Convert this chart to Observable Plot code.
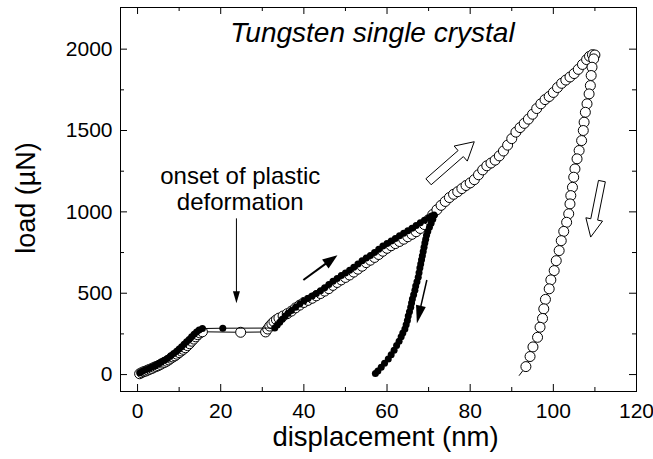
<!DOCTYPE html>
<html>
<head>
<meta charset="utf-8">
<script src="https://cdn.jsdelivr.net/npm/d3@7"></script>
<script src="https://cdn.jsdelivr.net/npm/@observablehq/plot@0.6"></script>
<style>
  html, body { margin: 0; padding: 0; background: #fff; }
  #chart svg { display: block; }
</style>
</head>
<body>
<div id="chart"></div>
<script>
// Nanoindentation load–displacement curves on a tungsten single crystal.
// Points are [displacement (nm), load (µN)].

// Open symbols: full loading to ~2000 µN
const openLoading = [
  [0.5,5],[1,12],[1.5,18],[2,22],[2.5,28],[3,33],[3.5,38],[4,45],[4.5,50],[5,55],
  [5.5,62],[6,70],[6.5,75],[7,82],[7.5,90],[8,100],[8.5,108],[9,115],[9.5,125],[10,135],
  [10.5,145],[11,155],[11.5,165],[12,178],[12.5,190],[13,205],[13.5,218],[14,232],[14.5,245],[15,256],
  [15.6,263],[24.8,260],[30.8,262],[31.3,280],[31.8,298],[32.3,312],[32.8,325],[33.4,337],[34,347],[35,360],
  [36,374],[37,390],[38,410],[39,427],[40,443],[41,456],[42,469],[43,484],[44,498],[45,513],
  [46,528],[47,548],[48,566],[49,582],[50,597],[51,612],[52,630],[53,648],[54,666],[55,688],
  [56,703],[57,720],[58,738],[59,758],[60,776],[61,792],[62,805],[63,818],[64,832],[65,847],
  [66,862],[67,878],[68,898],[69,922],[70,952],[71,984],[72,1013],[73,1040],[74,1064],[75,1088],
  [76,1108],[77,1124],[78,1143],[79,1162],[80,1178],[81,1198],[82,1228],[83,1258],[84,1283],[85,1300],
  [86,1318],[87,1344],[88,1374],[89,1410],[90,1450],[91,1490],[92,1518],[93,1544],[94,1570],[95,1600],
  [96,1635],[97,1664],[98,1690],[99,1709],[100,1734],[101,1764],[102,1790],[103,1810],[104,1829],[105,1850],
  [106,1876],[107,1906],[108,1936],[108.7,1956],[109.4,1966],[110,1964]
];

// Open symbols: unloading from the peak
const openUnloading = [
  [109.7,1940],[109.3,1889],[109.1,1838],[108.9,1776],[108.6,1725],[108.1,1664],[107.7,1612],[107.4,1551],
  [107.2,1500],[106.8,1438],[106.2,1377],[105.7,1326],[105.2,1264],[104.9,1213],[104.6,1151],[104.2,1100],
  [104.0,1049],[103.7,988],[103.2,936],[102.5,880],[101.9,823],[101.4,762],[100.7,700],[100.2,639],
  [99.4,582],[99.0,527],[98.1,462],[97.7,404],[97.4,345],[96.8,291],[96.2,229],[95.1,170],
  [94.4,111],[93.4,49]
];
// last recorded sample of the open unloading trace (line only, no symbol)
const openUnloadingEnd = [[91.8,-5]];

// Filled symbols: partial loading to ~1000 µN
const filledLoading = [
  [0.6,12],[1.2,20],[2,30],[2.8,38],[3.5,46],[4.3,55],[5,65],
  [5.7,75],[6.5,88],[7.2,99],[8,115],[8.7,129],[9.4,144],[10,157],
  [10.6,171],[11.2,186],[11.8,201],[12.4,216],[13,232],[13.6,248],[14.2,262],[14.8,274],
  [15.6,283],[20.5,285],[33,286],[33.6,304],[34.2,322],[34.8,340],[35.5,360],[36.2,377],[37,394],
  [38,414],[39,434],[40,452],[41,468],[42,483],[43,499],[44,515],[45,534],[46,554],[47,573],
  [48,590],[49,609],[50,625],[51,641],[52,660],[53,679],[54,699],[55,716],[56,732],[57,751],
  [58,771],[59,790],[60,806],[61,821],[62,837],[63,853],[64,868],[65,884],[66,900],[67,916],
  [68,933],[69,949],[70,963],[70.7,974],[71.3,980]
];

// Filled symbols: unloading
const filledUnloading = [
  [71.0,955],[70.6,930],[70.2,905],[69.8,880],[69.5,856],[69.3,832],[69.1,808],[68.9,782],
  [68.7,756],[68.5,730],[68.3,705],[68.1,680],[67.9,655],[67.7,626],[67.5,598],[67.2,571],
  [66.9,545],[66.7,518],[66.4,491],[66.1,465],[65.9,440],[65.7,414],[65.4,386],[65.1,360],
  [64.9,333],[64.6,306],[64.3,280],[63.8,255],[63.4,232],[62.9,205],[62.3,178],[61.7,150],
  [61.0,122],[60.3,96],[59.4,70],[58.6,45],[57.8,22],[57.2,6]
];

// Axis ticks
const xMajorTicks = [0, 20, 40, 60, 80, 100, 120];
const xMinorTicks = [10, 30, 50, 70, 90, 110];
const yMajorTicks = [0, 500, 1000, 1500, 2000];
const yMinorTicks = [250, 750, 1250, 1750];

// Texts
const xTitle = "displacement (nm)";
const yTitle = "load (µN)";
const chartTitle = "Tungsten single crystal";
const onsetText = "onset of plastic\ndeformation";

// Annotation anchors, in data units [displacement, load]
const titleAnchor = [56.5, 2165];
const onsetAnchor = [24.7, 1289];
const onsetArrow = [[23.9, 957], [23.9, 435]];
const solidArrows = [
  [[40.0, 578], [48.2, 731]],
  [[69.7, 578], [67.3, 311]]
];
const hollowArrows = [
  [[70.1, 1182], [81.1, 1428]],
  [[111.8, 1186], [109.1, 842]]
];

const W = 653, H = 459;
const mL = 120, mR = 17, mT = 7, mB = 68;
const frameW = W - mL - mR, frameH = H - mT - mB;
const majorLen = 7, minorLen = 4;
const font = "'Liberation Sans', Arial, Helvetica, sans-serif";

const X = d => d[0], Y = d => d[1];
const id = d => d;
const plain = d => String(d);

const chart = Plot.plot({
  width: W,
  height: H,
  marginLeft: mL,
  marginRight: mR,
  marginTop: mT,
  marginBottom: mB,
  style: { fontFamily: font, fontSize: "21px", background: "white", color: "black" },
  x: { domain: [-4.1, 120], label: null },
  y: { domain: [-104, 2256], label: null },
  marks: [
    Plot.frame({ stroke: "black", strokeWidth: 1 }),
    // inward ticks on all four sides
    Plot.tickX(xMajorTicks, { x: id, insetTop: frameH - majorLen, stroke: "black" }),
    Plot.tickX(xMajorTicks, { x: id, insetBottom: frameH - majorLen, stroke: "black" }),
    Plot.tickX(xMinorTicks, { x: id, insetTop: frameH - minorLen, stroke: "black" }),
    Plot.tickX(xMinorTicks, { x: id, insetBottom: frameH - minorLen, stroke: "black" }),
    Plot.tickY(yMajorTicks, { y: id, insetRight: frameW - majorLen, stroke: "black" }),
    Plot.tickY(yMajorTicks, { y: id, insetLeft: frameW - majorLen, stroke: "black" }),
    Plot.tickY(yMinorTicks, { y: id, insetRight: frameW - minorLen, stroke: "black" }),
    Plot.tickY(yMinorTicks, { y: id, insetLeft: frameW - minorLen, stroke: "black" }),
    Plot.axisX(xMajorTicks, { tickSize: 0, tickPadding: 12, fontSize: 21, tickFormat: plain, label: null }),
    Plot.axisY(yMajorTicks, { tickSize: 0, tickPadding: 8, fontSize: 21, tickFormat: plain, label: null }),

    // open-symbol test (to ~2000 µN)
    Plot.line(openLoading.concat(openUnloading, openUnloadingEnd), { x: X, y: Y, stroke: "black", strokeWidth: 1 }),
    Plot.dot(openLoading.concat(openUnloading), { x: X, y: Y, r: 5, fill: "white", stroke: "black", strokeWidth: 1 }),

    // filled-symbol test (to ~1000 µN)
    Plot.line(filledLoading.concat(filledUnloading), { x: X, y: Y, stroke: "black", strokeWidth: 1 }),
    Plot.dot(filledLoading.concat(filledUnloading), { x: X, y: Y, r: 3.5, fill: "black", stroke: "none" }),

    // texts
    Plot.text([chartTitle], { x: titleAnchor[0], y: titleAnchor[1], text: id, fontSize: 28, fontStyle: "italic", lineAnchor: "top", textAnchor: "middle", fill: "black" }),
    Plot.text([onsetText], { x: onsetAnchor[0], y: onsetAnchor[1], text: id, fontSize: 24, lineHeight: 1.11, lineAnchor: "top", textAnchor: "middle", fill: "black" }),
    Plot.text([xTitle], { frameAnchor: "bottom", text: id, fontSize: 27.5, lineAnchor: "top", textAnchor: "middle", dy: 35, dx: 7, fill: "black" }),
    Plot.text([yTitle], { frameAnchor: "left", text: id, fontSize: 27, rotate: -90, lineAnchor: "bottom", textAnchor: "middle", dx: -86, dy: -1.5, fill: "black" })
  ]
});

document.getElementById("chart").appendChild(chart);

// Arrows drawn through the plot's own scales
const sx = chart.scale("x"), sy = chart.scale("y");
const px = v => sx.apply(v), py = v => sy.apply(v);
const svg = d3.select(chart);
const g = svg.append("g").attr("class", "arrows");

function frameOf(a, b) {
  const x0 = px(a[0]), y0 = py(a[1]), x1 = px(b[0]), y1 = py(b[1]);
  const len = Math.hypot(x1 - x0, y1 - y0);
  const ux = (x1 - x0) / len, uy = (y1 - y0) / len;
  return { x0, y0, x1, y1, ux, uy, nx: -uy, ny: ux };
}

// outlined block arrow
function hollowArrow(a, b, shaft, headW, headL) {
  const f = frameOf(a, b);
  const bx = f.x1 - f.ux * headL, by = f.y1 - f.uy * headL;
  const pts = [
    [f.x0 + f.nx * shaft, f.y0 + f.ny * shaft],
    [bx + f.nx * shaft, by + f.ny * shaft],
    [bx + f.nx * headW, by + f.ny * headW],
    [f.x1, f.y1],
    [bx - f.nx * headW, by - f.ny * headW],
    [bx - f.nx * shaft, by - f.ny * shaft],
    [f.x0 - f.nx * shaft, f.y0 - f.ny * shaft]
  ];
  g.append("path")
    .attr("d", "M" + pts.map(p => p.join(",")).join("L") + "Z")
    .attr("fill", "white").attr("stroke", "black").attr("stroke-width", 1)
    .attr("stroke-linejoin", "miter");
}

// thin shaft with a solid triangular head
function solidArrow(a, b, width, headW, headL) {
  const f = frameOf(a, b);
  const bx = f.x1 - f.ux * headL, by = f.y1 - f.uy * headL;
  g.append("line")
    .attr("x1", f.x0).attr("y1", f.y0).attr("x2", bx + f.ux).attr("y2", by + f.uy)
    .attr("stroke", "black").attr("stroke-width", width);
  const pts = [
    [f.x1, f.y1],
    [bx + f.nx * headW, by + f.ny * headW],
    [bx - f.nx * headW, by - f.ny * headW]
  ];
  g.append("path")
    .attr("d", "M" + pts.map(p => p.join(",")).join("L") + "Z")
    .attr("fill", "black").attr("stroke", "none");
}

solidArrow(onsetArrow[0], onsetArrow[1], 1, 3.5, 12);
solidArrow(solidArrows[0][0], solidArrows[0][1], 2, 5.5, 15);
solidArrow(solidArrows[1][0], solidArrows[1][1], 1.5, 5, 18);
hollowArrow(hollowArrows[0][0], hollowArrows[0][1], 4, 10, 18);
hollowArrow(hollowArrows[1][0], hollowArrows[1][1], 3.5, 8.5, 18);
</script>
</body>
</html>
